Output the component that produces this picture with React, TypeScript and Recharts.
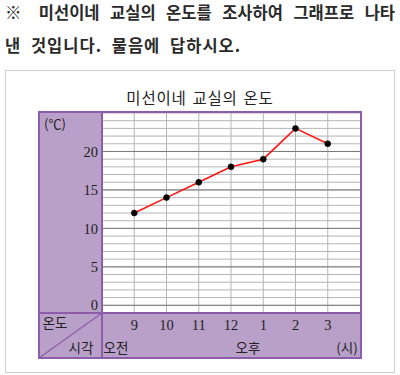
import React from "react";
import { LineChart, Line, XAxis, YAxis, CartesianGrid, ReferenceLine } from "recharts";

// 시각 (24h) and 온도 readings
const hours = [9, 10, 11, 12, 13, 14, 15];
const hourLabels = ["9", "10", "11", "12", "1", "2", "3"];
const temps = [12, 14, 16, 18, 19, 23, 21];
const yTicks = [0, 5, 10, 15, 20];
const minorLines = Array.from({ length: 26 }, (_, i) => i);

const data = hours.map((h, i) => ({ hour: h, temp: temps[i] }));

const PURPLE = "#b9a0c9";
const BORDER = "#8d5cab";
const KR = "'Noto Sans CJK KR', 'Noto Sans', sans-serif";
const NUM = "'Liberation Serif', 'DejaVu Serif', serif";

function Label({ x, y, children, size = 13.5, font = KR, spacing = 0 }: any) {
  return (
    <div
      style={{
        position: "absolute", left: x - 100, top: y - 10, width: 200, height: 20,
        lineHeight: "20px", textAlign: "center", fontSize: size, fontFamily: font, color: "#222",
        whiteSpace: "nowrap", letterSpacing: spacing, wordSpacing: spacing * 2,
      }}
    >
      {children}
    </div>
  );
}

export default function App() {
  return (
    <div style={{ position: "absolute", left: 0, top: 0, width: 400, height: 375, background: "#fff", overflow: "hidden" }}>
      <div style={{ position: "absolute", left: 5, top: 0, width: 390, fontFamily: KR, fontWeight: 700, fontSize: 16.5, color: "#2a2a2a", lineHeight: "24px", textAlign: "justify", textAlignLast: "justify" } as any}>
        ※ 미선이네 교실의 온도를 조사하여 그래프로 나타
      </div>
      <div style={{ position: "absolute", left: 5, top: 33, fontFamily: KR, fontWeight: 700, fontSize: 16.5, color: "#2a2a2a", lineHeight: "24px", wordSpacing: 5, letterSpacing: 1 }}>
        낸 것입니다. 물음에 답하시오.
      </div>

      <div style={{ position: "absolute", left: 5, top: 70, width: 388, height: 301, border: "1px solid #cfcfcf" }} />
      <Label x={200} y={97} size={15.5} spacing={0.8}>미선이네 교실의 온도</Label>

      <div style={{ position: "absolute", left: 39, top: 112, width: 63, height: 246, background: PURPLE }} />
      <div style={{ position: "absolute", left: 39, top: 313, width: 322, height: 45, background: PURPLE }} />

      <div style={{ position: "absolute", left: 39, top: 112 }}>
        <LineChart width={322} height={246} data={data} margin={{ top: 1, right: 1, bottom: 0, left: 0 }}>
          <CartesianGrid
            fill="#fff"
            stroke="#b4b4b4"
            strokeWidth={1}
            horizontalValues={minorLines}
            verticalValues={hours}
          />
          {yTicks.map((t) => (
            <ReferenceLine key={t} y={t} stroke="#7a7a7a" strokeWidth={1} />
          ))}
          <XAxis
            type="number"
            dataKey="hour"
            domain={[8, 16]}
            ticks={hours}
            tickFormatter={(v: number) => hourLabels[hours.indexOf(v)]}
            axisLine={false}
            tickLine={false}
            tickSize={0}
            tickMargin={7}
            height={45}
            interval={0}
            tick={{ fontSize: 14.5, fill: "#222", fontFamily: NUM }}
          />
          <YAxis
            type="number"
            domain={[-1, 25]}
            ticks={yTicks}
            axisLine={false}
            tickLine={false}
            tickSize={0}
            tickMargin={4}
            width={63}
            interval={0}
            tick={{ fontSize: 14.5, fill: "#222", fontFamily: NUM }}
          />
          <Line
            type="linear"
            dataKey="temp"
            stroke="#ff1414"
            strokeWidth={1.6}
            dot={{ r: 3, fill: "#000", stroke: "#000", strokeWidth: 0.5 }}
            isAnimationActive={false}
          />
        </LineChart>
      </div>

      <svg width={400} height={375} style={{ position: "absolute", left: 0, top: 0, pointerEvents: "none" }}>
        <rect x={39} y={112} width={322} height={246} fill="none" stroke={BORDER} strokeWidth={2} />
        <line x1={102} y1={112} x2={102} y2={358} stroke={BORDER} strokeWidth={2} />
        <line x1={39} y1={313} x2={361} y2={313} stroke={BORDER} strokeWidth={2} />
        <line x1={39} y1={358} x2={102} y2={313} stroke={BORDER} strokeWidth={1.2} />
      </svg>

      <Label x={55} y={124} size={13}>(℃)</Label>
      <Label x={55} y={322}>온도</Label>
      <Label x={81} y={347}>시각</Label>
      <Label x={116} y={347}>오전</Label>
      <Label x={248} y={347}>오후</Label>
      <Label x={347} y={347}>(시)</Label>
    </div>
  );
}
